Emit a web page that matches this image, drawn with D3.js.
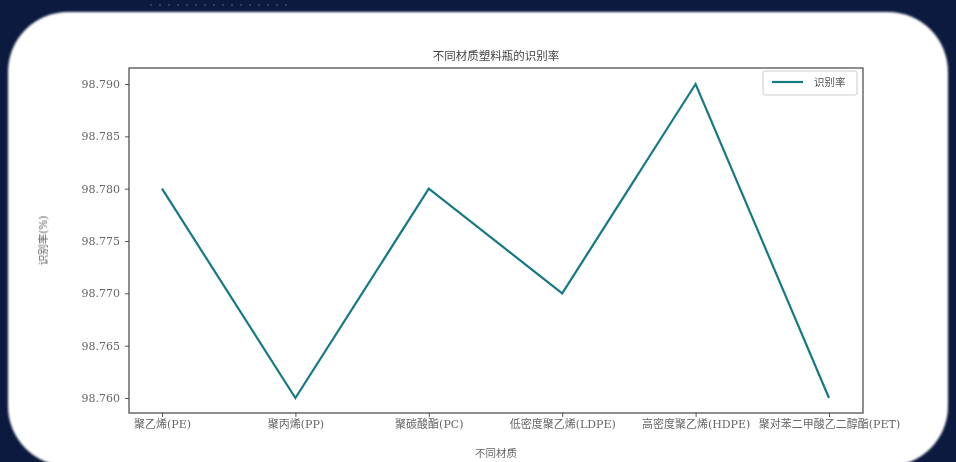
<!DOCTYPE html>
<html>
<head>
<meta charset="utf-8">
<script src="https://cdn.jsdelivr.net/npm/d3@7"></script>
<style>
html,body{margin:0;padding:0;background:#0b1a3e;}
svg{display:block;}
</style>
</head>
<body>
<svg id="chart" width="956" height="462"></svg>
<script>
const categories = ["聚乙烯(PE)", "聚丙烯(PP)", "聚碳酸酯(PC)", "低密度聚乙烯(LDPE)", "高密度聚乙烯(HDPE)", "聚对苯二甲酸乙二醇酯(PET)"];
const rates = [98.780, 98.760, 98.780, 98.770, 98.790, 98.760];
const yTicks = [98.760, 98.765, 98.770, 98.775, 98.780, 98.785, 98.790];
const titleText = "不同材质塑料瓶的识别率";
const xLabel = "不同材质";
const yLabel = "识别率(%)";
const legendLabel = "识别率";

(function () {
const svg = d3.select("#chart");
const font = "'DejaVu Serif', 'Noto Sans CJK SC', serif";

// background + card
svg.append("rect").attr("width", 956).attr("height", 462).attr("fill", "#0b1a3e");
const dots = svg.append("g");
d3.range(150, 290, 9).forEach(px => dots.append("rect").attr("x", px).attr("y", 4).attr("width", 2).attr("height", 2).attr("fill", "#2a3d66"));
svg.append("rect").attr("x", 8).attr("y", 12).attr("width", 940).attr("height", 454)
  .attr("rx", 60).attr("ry", 60).attr("fill", "#ffffff").style("filter", "blur(1px)");

const pLeft = 129, pRight = 863, pTop = 68, pBottom = 413;
const x = d3.scalePoint().domain(categories).range([162, 829]);
const y = d3.scaleLinear().domain([98.760, 98.790]).range([398, 84]);

const g = svg.append("g").style("filter", "blur(0.5px)");

// axes
const yAxis = g.append("g").attr("transform", `translate(${pLeft},0)`)
  .call(d3.axisLeft(y).tickValues(yTicks).tickFormat(d3.format(".3f")).tickSize(4).tickPadding(5));
yAxis.select(".domain").remove();
yAxis.selectAll("text").attr("font-family", font).attr("font-size", 11).attr("fill", "#666");
yAxis.selectAll("line").attr("stroke", "#555");

const xAxis = g.append("g").attr("transform", `translate(0,${pBottom})`)
  .call(d3.axisBottom(x).tickSize(4).tickPadding(3));
xAxis.select(".domain").remove();
xAxis.selectAll("text").attr("font-family", font).attr("font-size", 11).attr("fill", "#666");
xAxis.selectAll("line").attr("stroke", "#555");

// frame
g.append("rect").attr("x", pLeft).attr("y", pTop).attr("width", pRight - pLeft).attr("height", pBottom - pTop)
  .attr("fill", "none").attr("stroke", "#444").attr("stroke-width", 1.2);

// line
const line = d3.line().x((d, i) => x(categories[i])).y(d => y(d));
g.append("path").datum(rates).attr("d", line).attr("fill", "none")
  .attr("stroke", "#167a84").attr("stroke-width", 2.2);

// title & labels
g.append("text").attr("x", (pLeft + pRight) / 2).attr("y", 60).attr("text-anchor", "middle")
  .attr("font-family", font).attr("font-size", 11.5).attr("fill", "#444").text(titleText);
g.append("text").attr("x", (pLeft + pRight) / 2).attr("y", 457).attr("text-anchor", "middle")
  .attr("font-family", font).attr("font-size", 10.5).attr("fill", "#666").text(xLabel);
g.append("text").attr("transform", `translate(47,${(pTop + pBottom) / 2}) rotate(-90)`).attr("text-anchor", "middle")
  .attr("font-family", font).attr("font-size", 10.5).attr("fill", "#666").text(yLabel);

// legend
const lg = g.append("g");
lg.append("rect").attr("x", 763).attr("y", 71).attr("width", 94).attr("height", 24).attr("rx", 2)
  .attr("fill", "#fff").attr("stroke", "#ccc");
lg.append("line").attr("x1", 772).attr("x2", 803).attr("y1", 82).attr("y2", 82)
  .attr("stroke", "#167a84").attr("stroke-width", 2.2);
lg.append("text").attr("x", 814).attr("y", 86).attr("font-family", font).attr("font-size", 10.5)
  .attr("fill", "#555").text(legendLabel);
})();
</script>
</body>
</html>
